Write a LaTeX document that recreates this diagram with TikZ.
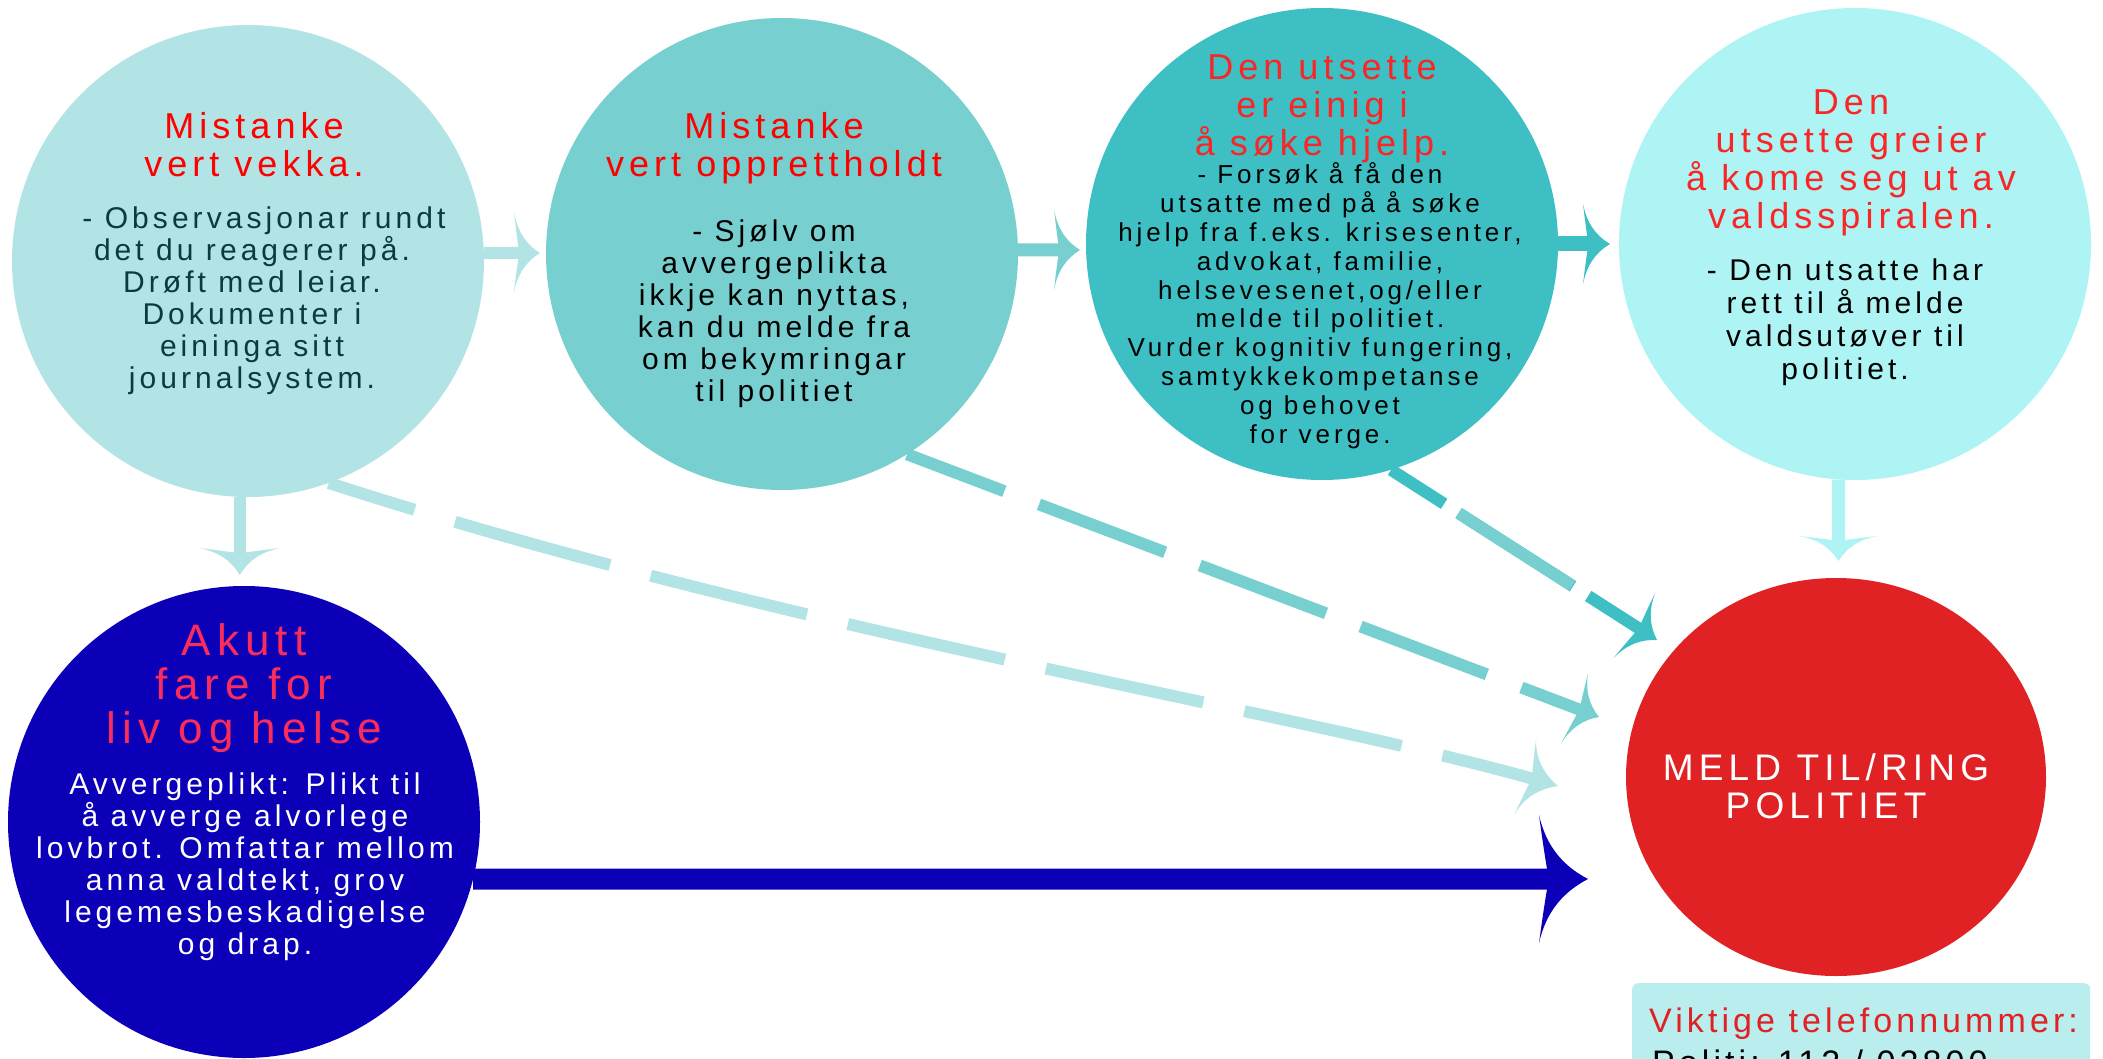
\documentclass[tikz,border=0pt]{standalone}
\usepackage{fontspec}
\setmainfont{Liberation Sans}
\newfontfamily\ltTitle{Liberation Sans}[LetterSpace=14]
\newfontfamily\ltBody{Liberation Sans}[LetterSpace=13.5]
\newfontfamily\ltSmall{Liberation Sans}[LetterSpace=15]
\newfontfamily\ltPhone{Liberation Sans}[LetterSpace=12]
\usetikzlibrary{arrows.meta,shapes.geometric}
\definecolor{cA}{HTML}{B3E4E5}
\definecolor{cB}{HTML}{78CFD0}
\definecolor{cC}{HTML}{3DBFC3}
\definecolor{cD}{HTML}{AEF4F4}
\definecolor{cE}{HTML}{0B00B8}
\definecolor{cR}{HTML}{E02224}
\definecolor{cBox}{HTML}{BAEDED}
\definecolor{tRed}{HTML}{FF0000}
\definecolor{tRedB}{HTML}{FA2525}
\definecolor{tPink}{HTML}{FA2D5A}
\definecolor{tDark}{HTML}{0B3B3C}
\pgfdeclarearrow{
  name = Curvy,
  parameters = {\the\pgfarrowlength,\the\pgfarrowwidth},
  setup code = {
    \pgfarrowssettipend{0pt}
    \pgfarrowssetlineend{-0.55\pgfarrowlength}
    \pgfarrowssetbackend{-\pgfarrowlength}
    \pgfarrowssetvisualbackend{-0.8\pgfarrowlength}
    \pgfarrowshullpoint{0pt}{0pt}
    \pgfarrowshullpoint{-\pgfarrowlength}{.5\pgfarrowwidth}
    \pgfarrowshullpoint{-\pgfarrowlength}{-.5\pgfarrowwidth}
    \pgfarrowssavethe\pgfarrowlength
    \pgfarrowssavethe\pgfarrowwidth
  },
  drawing code = {
    \pgfpathmoveto{\pgfpointorigin}
    \pgfpathcurveto
      {\pgfpoint{-.5\pgfarrowlength}{.1\pgfarrowwidth}}
      {\pgfpoint{-.85\pgfarrowlength}{.25\pgfarrowwidth}}
      {\pgfpoint{-\pgfarrowlength}{.5\pgfarrowwidth}}
    \pgfpathcurveto
      {\pgfpoint{-.93\pgfarrowlength}{.3\pgfarrowwidth}}
      {\pgfpoint{-.85\pgfarrowlength}{.1\pgfarrowwidth}}
      {\pgfpoint{-.8\pgfarrowlength}{0pt}}
    \pgfpathcurveto
      {\pgfpoint{-.85\pgfarrowlength}{-.1\pgfarrowwidth}}
      {\pgfpoint{-.93\pgfarrowlength}{-.3\pgfarrowwidth}}
      {\pgfpoint{-\pgfarrowlength}{-.5\pgfarrowwidth}}
    \pgfpathcurveto
      {\pgfpoint{-.85\pgfarrowlength}{-.25\pgfarrowwidth}}
      {\pgfpoint{-.5\pgfarrowlength}{-.1\pgfarrowwidth}}
      {\pgfpointorigin}
    \pgfpathclose
    \pgfusepathqfill
  },
  defaults = {length=26pt, width=80pt}
}
\begin{document}
\begin{tikzpicture}[x=1pt,y=-1pt,
  disc/.style={circle, inner sep=0pt, minimum size=472pt, draw=none},
  ttl/.style={anchor=base, align=center, inner sep=0pt, font=\ltTitle\fontsize{36}{38}\selectfont},
  bdy/.style={anchor=base, align=center, inner sep=0pt, font=\ltBody\fontsize{30}{32}\selectfont},
  solidarr/.style={line cap=butt, -{Curvy[length=26pt,width=80pt]}},
  dasharr/.style={line cap=butt, line width=12pt}
]
\useasboundingbox (0,0) rectangle (2103,1059);
\clip (0,0) rectangle (2103,1059);

% circles
\node[disc, fill=cA] (c1) at (248,261) {};
\node[disc, fill=cB] (c2) at (782,254) {};
\node[disc, fill=cC] (c3) at (1322,244) {};
\node[disc, fill=cD] (c4) at (1855,244) {};
\node[disc, fill=cE] (c5) at (244,822) {};
\node[ellipse, inner sep=0pt, minimum width=420pt, minimum height=398pt, fill=cR] (c6) at (1836,777) {};
\node[fill=cBox, rounded corners=6pt, minimum width=458pt, minimum height=120pt, anchor=north west, inner sep=0pt] (box) at (1632,983) {};

% texts (anchor = baseline of the last line)
\node[ttl, text=tRed] (t1) at (254,177) {Mistanke\\vert vekka.};
\node[bdy, text=tDark] (b1) at (252,388) {\hspace*{24pt}- Observasjonar rundt\\det du reagerer på.\\Drøft med leiar.\\Dokumenter i\\eininga sitt\\journalsystem.};
\node[ttl, text=tRed] (t2) at (774,177) {Mistanke\\vert opprettholdt};
\node[bdy, text=black] (b2) at (774,401) {- Sjølv om\\avvergeplikta\\ikkje kan nyttas,\\kan du melde fra\\om bekymringar\\til politiet};
\node[ttl, text=tRedB] (t3) at (1322,156) {Den utsette\\er einig i\\å søke hjelp.};
\node[bdy, text=black, font=\ltSmall\fontsize{26}{28.8}\selectfont] (b3) at (1320,443) {- Forsøk å få den\\utsatte med på å søke\\hjelp fra f.eks. krisesenter,\\advokat, familie,\\helsevesenet,og/eller\\melde til politiet.\\Vurder kognitiv fungering,\\samtykkekompetanse\\og behovet\\for verge.};
\node[ttl, text=tRedB, font=\ltTitle\fontsize{36}{38.3}\selectfont] (t4) at (1851,229) {Den\\utsette greier\\å kome seg ut av\\valdsspiralen.};
\node[bdy, text=black, font=\ltBody\fontsize{30}{32.7}\selectfont] (b4) at (1845,379) {- Den utsatte har\\rett til å melde\\valdsutøver til\\politiet.};
\node[ttl, text=tPink, font=\ltTitle\fontsize{44}{44}\selectfont] (t5) at (244,743) {Akutt\\fare for\\liv og helse};
\node[bdy, text=white] (b5) at (245,954) {Avvergeplikt: Plikt til\\å avverge alvorlege\\lovbrot. Omfattar mellom\\anna valdtekt, grov\\legemesbeskadigelse\\og drap.};
\node[ttl, text=white, font=\ltTitle\fontsize{37}{38}\selectfont] (t6) at (1826,818) {MELD TIL/RING\\POLITIET};
\node[anchor=base west, inner sep=0pt, text=cR, font=\ltPhone\fontsize{34}{40}\selectfont] (ph1) at (1649,1032) {Viktige telefonnummer:};
\node[anchor=base west, inner sep=0pt, text=black, font=\ltPhone\fontsize{34}{40}\selectfont] (ph2) at (1652,1074) {Politi: 112 / 02800};

% free ends of connectors
\coordinate (e1) at (1558,786);
\coordinate (e2) at (1599,717);
\coordinate (e3) at (1657,640);
\coordinate (t12) at (540,253);
\coordinate (t23) at (1080,250);
\coordinate (t34) at (1610,244);
\coordinate (t4r) at (1838.5,561);
\coordinate (t15) at (239.8,575);
\coordinate (t5r) at (1588,879);

% dashed connectors
\draw[dasharr, draw=cA, dash pattern=on 161pt off 42pt, dash phase=71pt, -{Curvy[length=34pt,width=78pt]}]
  (c1.-70) .. controls (800,635) and (1300,712) .. (e1);
\draw[dasharr, draw=cB, dash pattern=on 135pt off 37pt, dash phase=31pt, -{Curvy[length=26pt,width=76pt]}]
  (c2.-58.3) -- (e2);
\draw[dasharr, draw=cC, dash pattern=on 135pt off 18pt, dash phase=72pt, -{Curvy[length=27pt,width=78pt]}]
  (c3.-73.7) -- (e3);
\draw[dasharr, draw=cB, dash pattern=on 0pt off 80pt on 135pt off 2000pt]
  (c3.-73.7) -- (e3);

% solid connectors
\draw[solidarr, draw=cA, line width=12pt] (c1.2) -- (t12);
\draw[solidarr, draw=cB, line width=13pt] (c2.1) -- (t23);
\draw[solidarr, draw=cC, line width=15pt, -{Curvy[length=27pt,width=80pt]}] (c3.0) -- (t34);
\draw[solidarr, draw=cD, line width=13pt, -{Curvy[length=25pt,width=78pt]}] (c4.-94) -- (t4r);
\draw[solidarr, draw=cA, line width=12pt, -{Curvy[length=27pt,width=81pt]}] (c1.-92) -- (t15);
\draw[solidarr, draw=cE, line width=21pt, -{Curvy[length=49pt,width=128pt]}] (c5.-14) -- (t5r);
\end{tikzpicture}
\end{document}
